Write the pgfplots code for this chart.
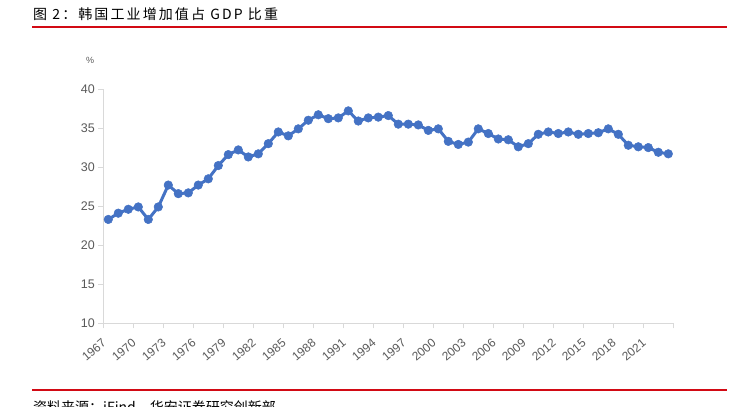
\documentclass[border=0pt]{standalone}
\usepackage{pgfplots}
\pgfplotsset{compat=1.18}
\usepackage{pgfplotstable}
\usepackage{fontspec}
\setmainfont{Liberation Sans}
\newfontfamily\cjk{Noto Sans CJK SC}
\newfontfamily\cjktitle[LetterSpace=15]{Noto Sans CJK SC}
\definecolor{lineblue}{RGB}{68,114,196}
\definecolor{redline}{RGB}{210,10,20}
\definecolor{axgray}{RGB}{217,217,217}
\definecolor{txtgray}{RGB}{89,89,89}

\pgfplotstableread{
year val
1967 23.3
1968 24.1
1969 24.6
1970 24.9
1971 23.3
1972 24.9
1973 27.7
1974 26.6
1975 26.7
1976 27.7
1977 28.5
1978 30.2
1979 31.6
1980 32.2
1981 31.3
1982 31.7
1983 33.0
1984 34.5
1985 34.0
1986 34.9
1987 36.0
1988 36.7
1989 36.2
1990 36.3
1991 37.2
1992 35.9
1993 36.3
1994 36.4
1995 36.6
1996 35.5
1997 35.5
1998 35.4
1999 34.7
2000 34.9
2001 33.3
2002 32.9
2003 33.2
2004 34.9
2005 34.3
2006 33.6
2007 33.5
2008 32.6
2009 33.0
2010 34.2
2011 34.5
2012 34.3
2013 34.5
2014 34.2
2015 34.3
2016 34.4
2017 34.9
2018 34.2
2019 32.8
2020 32.6
2021 32.5
2022 31.9
2023 31.7
}\datatable

\begin{document}
\begin{tikzpicture}[x=1bp,y=1bp]
\useasboundingbox (0,0) rectangle (734,406);
\clip (0,0) rectangle (734,406);
\node[anchor=base west, inner sep=0, font=\cjktitle\fontsize{14bp}{16bp}\selectfont] at (33,386.5) {图 2：韩国工业增加值占 GDP 比重};
\draw[redline, line width=2bp] (32,379.3) -- (727,379.3);
\draw[redline, line width=2bp] (32,16) -- (727,16);
\node[anchor=base west, inner sep=0, font=\cjk\fontsize{14bp}{16bp}\selectfont] at (33,-6) {资料来源：iFind，华安证券研究创新部};
\node[anchor=center, inner sep=0, text=txtgray, font=\fontsize{9bp}{10bp}\selectfont] at (90,346) {\%};
\begin{axis}[
  at={(103.3bp,82.7bp)}, anchor=south west,
  scale only axis, width=570bp, height=234.3bp,
  xmin=1966.5, xmax=2023.5, ymin=10, ymax=40,
  axis lines*=left,
  axis line style={-, draw=axgray, line width=1bp},
  tick align=outside,
  major tick length=5bp,
  minor tick length=5bp,
  tick style={draw=axgray, line width=1bp},
  xtick={1967,1970,...,2021},
  minor xtick={1966.5,1969.5,1972.5,1975.5,1978.5,1981.5,1984.5,1987.5,1990.5,1993.5,1996.5,1999.5,2002.5,2005.5,2008.5,2011.5,2014.5,2017.5,2020.5,2023.5},
  every major x tick/.append style={draw=none},
  every minor x tick/.append style={draw=axgray, line width=1bp},
  x tick label style={xshift=-4bp, yshift=-13bp, rotate=40, anchor=east, inner sep=0pt, text=txtgray, font=\fontsize{12bp}{13bp}\selectfont},
  ytick={10,15,...,40},
  y tick label style={text=txtgray, font=\fontsize{12.5bp}{14bp}\selectfont},
  /pgf/number format/1000 sep={},
  /pgf/number format/assume math mode=true,
  clip=false,
]
\addplot[lineblue, line width=3bp, mark=*, mark size=4.3bp, mark options={solid, fill=lineblue, draw=lineblue, line width=0.5bp}] table[x=year, y=val] {\datatable};
\end{axis}
\end{tikzpicture}
\end{document}
